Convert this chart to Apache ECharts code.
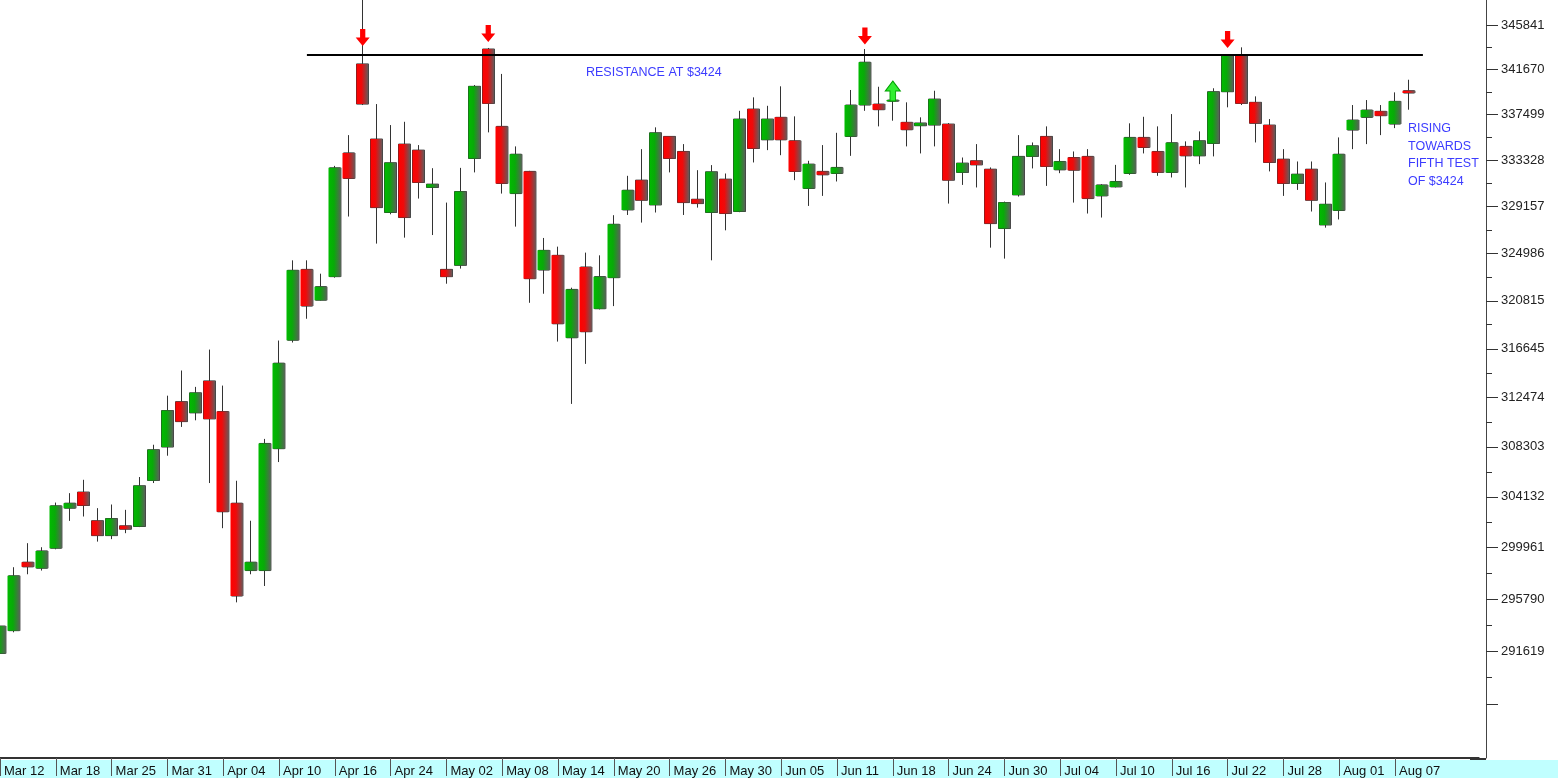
<!DOCTYPE html>
<html><head><meta charset="utf-8">
<script src="https://cdn.jsdelivr.net/npm/echarts@6/dist/echarts.min.js"></script>
<style>html,body{margin:0;padding:0;background:#fff}#c{width:1558px;height:778px}</style>
</head><body><div id="c"></div>
<script>
const dates = ['Mar 12','Mar 13','Mar 14','Mar 17','Mar 18','Mar 19','Mar 20','Mar 24','Mar 25','Mar 26','Mar 27','Mar 28',
'Mar 31','Apr 01','Apr 02','Apr 03','Apr 04','Apr 07','Apr 08','Apr 09','Apr 10','Apr 11','Apr 14','Apr 15',
'Apr 16','Apr 17','Apr 22','Apr 23','Apr 24','Apr 25','Apr 29','Apr 30','May 02','May 05','May 06','May 07',
'May 08','May 09','May 12','May 13','May 14','May 15','May 16','May 19','May 20','May 21','May 22','May 23',
'May 26','May 27','May 28','May 29','May 30','Jun 02','Jun 03','Jun 04','Jun 05','Jun 06','Jun 09','Jun 10',
'Jun 11','Jun 12','Jun 13','Jun 17','Jun 18','Jun 19','Jun 20','Jun 23','Jun 24','Jun 25','Jun 26','Jun 27',
'Jun 30','Jul 01','Jul 02','Jul 03','Jul 04','Jul 07','Jul 08','Jul 09','Jul 10','Jul 11','Jul 14','Jul 15',
'Jul 16','Jul 17','Jul 18','Jul 21','Jul 22','Jul 23','Jul 24','Jul 25','Jul 28','Jul 29','Jul 30','Jul 31',
'Aug 01','Aug 04','Aug 05','Aug 06','Aug 07','Aug 08'];

const opens = [291440,293250,298770,298280,299910,303200,304530,302160,300940,301740,301690,305500,
308290,312120,311170,313890,311280,303610,298090,298090,308150,317390,323570,320870,
322930,334000,342190,335260,328620,334800,334250,330870,323570,323930,333490,343580,
336420,330320,332320,323510,324810,317600,323780,320120,322840,328850,331530,329300,
335500,334130,329810,328620,331620,328710,338010,335190,337250,335100,330780,332320,
332130,335500,338380,338470,338740,336790,336480,336540,336630,332230,333280,332520,
327190,330200,333680,335500,332460,333580,333680,330110,330920,332130,335410,334130,
332230,334590,333730,334860,339610,342960,338630,336540,333430,331230,332520,327510,
328800,336080,337250,337800,336630,339700];

const closes = [293620,297660,298390,299690,303390,303610,303420,300940,302340,301470,305050,308060,
311360,310430,312870,310660,302900,296030,298770,308590,315410,323490,320350,322050,
332640,331680,338470,329060,333100,328170,331320,331170,322930,330500,340110,338530,
331230,333880,322750,325250,318810,321810,318120,322930,327570,330620,329720,335830,
333490,329510,329420,332280,328530,337090,334400,337090,335190,332320,332980,332010,
332680,338380,342350,337950,338840,336110,336730,338930,331530,333070,332910,327630,
329510,333680,334640,332770,333220,332430,329870,331100,331410,335410,334490,332230,
334920,333730,335100,339610,342960,338530,336700,333130,331230,332070,329720,329360,
333880,337000,337920,337400,338720,339490];

const lows = [290510,293120,297790,298090,299820,302150,302510,300450,300650,301140,301640,305280,
307560,309980,310540,305280,301550,295520,297790,296840,307030,317190,319250,320840,
322840,328260,338380,325850,328460,326380,329870,326610,322310,323640,332230,335870,
330320,327360,320640,321430,317270,311930,315350,320060,320350,328400,327720,328620,
332230,328400,329060,324370,327030,328650,333130,334250,333790,331530,329210,330110,
331410,333730,337850,336420,336940,334590,333950,334590,329420,331100,330870,325490,
324520,330050,332590,331010,332160,329510,328530,328170,330870,332010,333950,331920,
331770,330870,332980,333680,338170,338380,334950,332320,330110,330650,328710,327270,
328000,334340,334800,335620,336260,337950];

const highs = [293940,298360,300320,299990,303660,304440,305550,303200,303500,303060,305780,308480,
312630,314780,313380,316580,313490,305470,302160,308970,317360,324370,324370,323190,
332820,335620,349500,338470,336540,336840,334710,332610,329510,332640,340230,343680,
341260,334590,332370,326350,325580,321960,325050,324810,328380,331920,334340,336330,
335530,334800,332430,332890,332130,337850,339090,338310,340110,337340,333280,334710,
335830,339770,343580,340070,338930,338630,337250,339700,336720,333580,334800,332680,
329600,335620,334950,336420,334340,334130,334340,331170,332910,336700,337300,336420,
337550,335050,335960,339930,343050,343740,339180,337090,334340,333220,333220,331320,
335410,338380,338840,338380,339550,340720];

const yTickLabels = [345841,341670,337499,333328,329157,324986,320815,316645,312474,308303,304132,299961,295790,291619];
const yTickExtra = [287448];
const yMin = 283255, yMax = 348200;

const RESISTANCE = 343050;
const resStartIdx = 22, resEndIdx = 102;
const downArrowIdx = [26, 35, 62, 88];
const downArrowVals = [344655, 345028, 344795, 344469];
const upArrowIdx = [64];
const upArrowVals = [339674];
const emptySlots = 5; // blank trading slots to the right of the last candle

const xCats = dates.concat(new Array(emptySlots).fill(''));
const ohlc = dates.map((d, i) => [opens[i], closes[i], lows[i], highs[i]]);
const majorTicks = yTickLabels.concat(yTickExtra);
const minorTicks = majorTicks.slice(1).map((v, i) => (v + majorTicks[i]) / 2);

const greenGrad = {type:'linear',x:0,y:0,x2:1,y2:0,colorStops:[
  {offset:0,color:'#00bb00'},{offset:0.42,color:'#08aa08'},{offset:1,color:'#5e5e5e'}]};
const redGrad = {type:'linear',x:0,y:0,x2:1,y2:0,colorStops:[
  {offset:0,color:'#ff0000'},{offset:0.42,color:'#ee0b0b'},{offset:1,color:'#5e5e5e'}]};

const FONT = 'Liberation Sans';
const showEvery4 = (i) => i % 4 === 0 && i < dates.length;

const downPath = 'path://M5,0L11,0L11,9L16,9L8,18L0,9L5,9Z';
const upPath = 'path://M8,0L16,9L11,9L11,18L5,18L5,9L0,9Z';

const markPts = downArrowIdx.map((ix, k) => ({
  coord:[ix, downArrowVals[k]], symbol:downPath, symbolSize:[14,17],
  itemStyle:{color:'#ff0000'}
})).concat(upArrowIdx.map((ix, k) => ({
  coord:[ix, upArrowVals[k]], symbol:upPath, symbolSize:[15,20],
  itemStyle:{color:'#33ee33', borderColor:'#00a000', borderWidth:1}
})));

const GRID_RIGHT = 79.3, Y_OFFSET = 7.3;

const chart = echarts.init(document.getElementById('c'), null, {renderer:'canvas'});
chart.setOption({
  animation:false,
  backgroundColor:'#ffffff',
  grid:{left:0, right:GRID_RIGHT, top:0, bottom:19, containLabel:false},
  xAxis:{
    type:'category', data:xCats, boundaryGap:false,
    axisLine:{show:true, lineStyle:{color:'#333', width:2}},
    axisTick:{show:true, interval:showEvery4, length:18, lineStyle:{color:'#555'}},
    axisLabel:{interval:showEvery4, align:'left', verticalAlign:'top', margin:7, padding:[0,0,0,4],
      fontSize:13, fontFamily:FONT, color:'#111'},
    splitLine:{show:false}
  },
  yAxis:[{
    type:'log', position:'right', offset:Y_OFFSET, min:yMin, max:yMax,
    axisLine:{show:true, lineStyle:{color:'#444'}},
    axisTick:{show:true, inside:false, length:12, customValues:majorTicks, lineStyle:{color:'#333'}},
    axisLabel:{customValues:yTickLabels, margin:15, fontSize:13, fontFamily:FONT, color:'#222',
      formatter:(v) => String(Math.round(v))},
    splitLine:{show:false}
  },{
    type:'log', position:'right', offset:Y_OFFSET, min:yMin, max:yMax,
    axisLine:{show:false},
    axisTick:{show:true, inside:false, length:6, customValues:minorTicks, lineStyle:{color:'#333'}},
    axisLabel:{show:false},
    splitLine:{show:false}
  }],
  graphic:[
    {type:'rect', z:-10, shape:{x:0, y:760, width:1558, height:18}, style:{fill:'#c0ffff'}},
    {type:'line', z:5, shape:{x1:1470, y1:759, x2:1486, y2:759}, style:{stroke:'#333', lineWidth:2}},
    {type:'text', z:10, style:{text:'RESISTANCE AT $3424', x:586, y:73, fill:'#3c3cff',
      font:'12.5px "Liberation Sans"', verticalAlign:'middle'}},
    {type:'text', z:10, style:{text:'RISING\nTOWARDS\nFIFTH TEST\nOF $3424', x:1408, y:120, fill:'#3c3cff',
      font:'12.5px "Liberation Sans"', lineHeight:17.6, verticalAlign:'top'}}
  ],
  series:[{
    type:'candlestick', name:'wick', data:ohlc, barWidth:12, silent:true, z:2,
    itemStyle:{color:'#333', color0:'#333', borderColor:'#333', borderColor0:'#333', borderWidth:1}
  },{
    type:'candlestick', name:'body', data:ohlc, barWidth:13, silent:true, z:3,
    itemStyle:{color:greenGrad, color0:redGrad, borderWidth:0, borderColor:'rgba(0,0,0,0)', borderColor0:'rgba(0,0,0,0)'},
    markLine:{silent:true, symbol:['none','none'], label:{show:false},
      lineStyle:{color:'#000', width:2, type:'solid'},
      data:[[{coord:[resStartIdx, RESISTANCE]}, {coord:[resEndIdx, RESISTANCE]}]]},
    markPoint:{silent:true, label:{show:false}, data:markPts}
  }]
});
</script>
</body></html>
